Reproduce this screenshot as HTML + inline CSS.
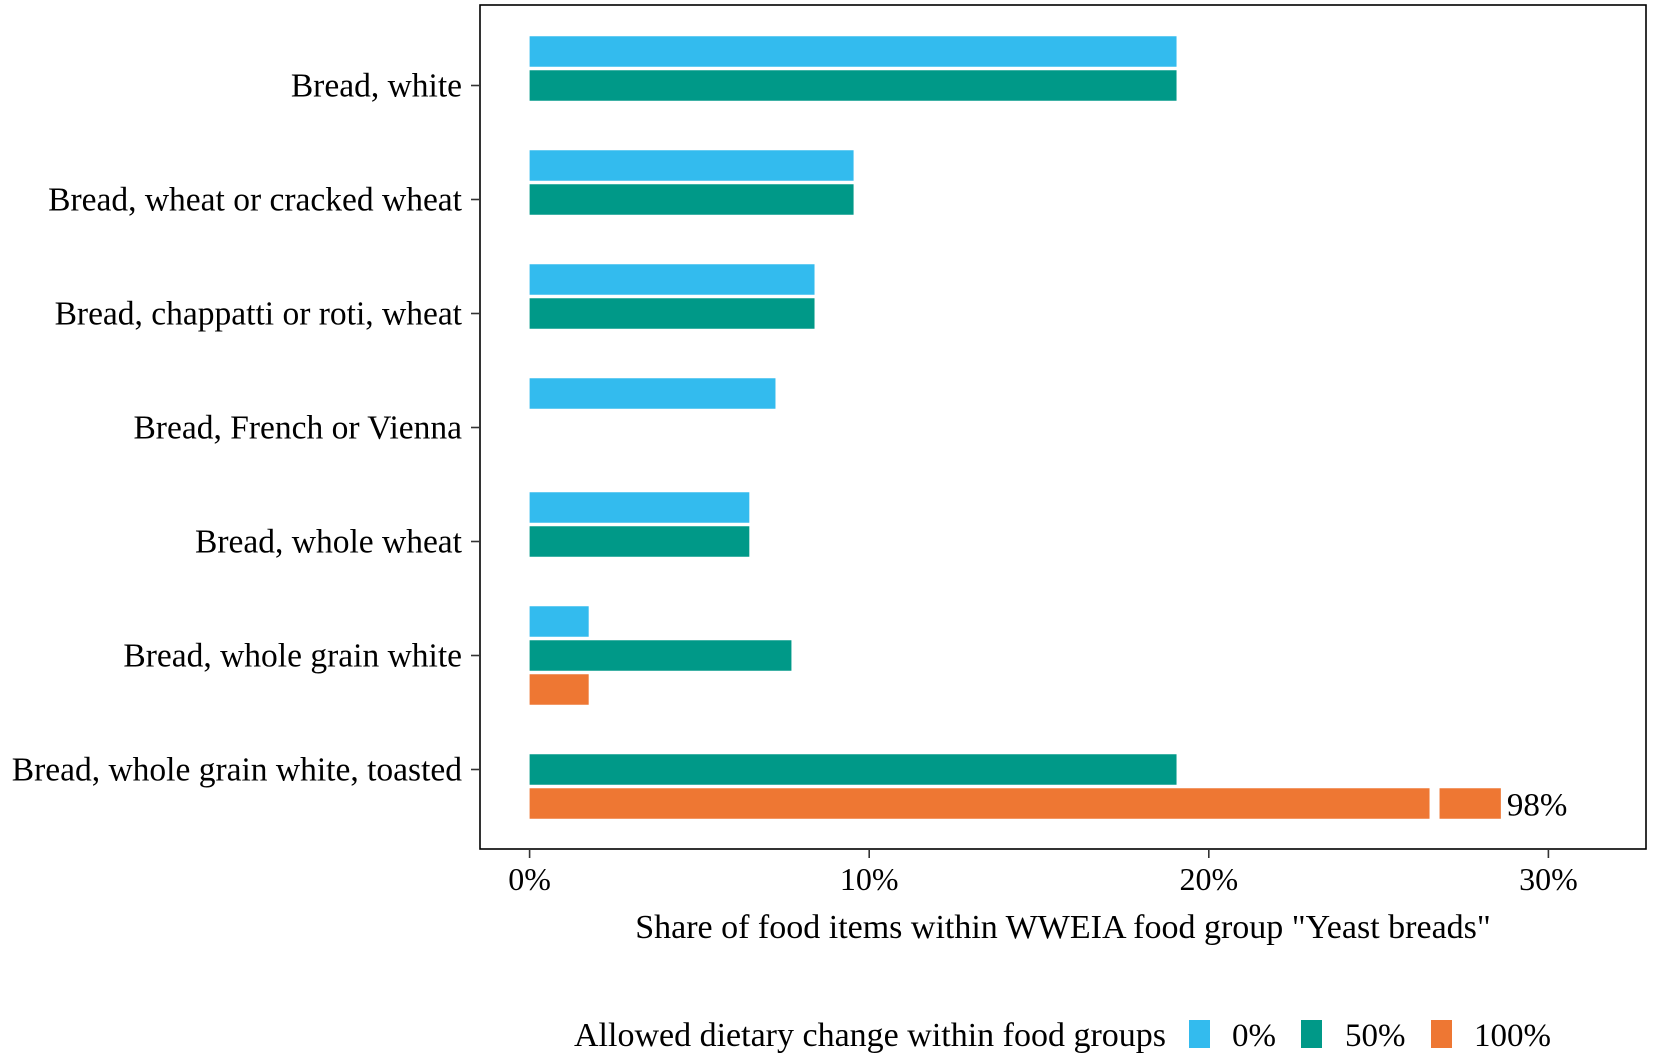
<!DOCTYPE html>
<html><head><meta charset="utf-8"><style>
body{margin:0;background:#fff;}
svg{display:block;font-family:"Liberation Serif",serif;}
</style></head><body>
<svg id="chart" width="1654" height="1058" viewBox="0 0 1654 1058"></svg>
<script>
const categories = ["Bread, white","Bread, wheat or cracked wheat","Bread, chappatti or roti, wheat","Bread, French or Vienna","Bread, whole wheat","Bread, whole grain white","Bread, whole grain white, toasted"];
const series0 = [19.05, 9.54, 8.39, 7.24, 6.47, 1.74, null];
const series50 = [19.05, 9.54, 8.39, null, 6.47, 7.71, 19.05];
const series100 = [null, null, null, null, null, 1.74, 98];
const xTicks = [0, 10, 20, 30];
const xTickLabels = ["0%","10%","20%","30%"];
const seriesNames = ["0%","50%","100%"];
const colors = ["#33bbee","#009988","#ee7733"];

const NS="http://www.w3.org/2000/svg";
const svg=document.getElementById('chart');
function el(t,a,p){const e=document.createElementNS(NS,t);for(const k in a)e.setAttribute(k,a[k]);(p||svg).appendChild(e);return e;}
const L=480,R=1646,T=5,B=849;
const x=v=>529.6+v*33.96;
const y=i=>85.5+i*114;
const bh=30.5, off=[-34,0,34];
const brkStart=26.5, brkEnd=28.6;

const panel=el('rect',{x:L,y:T,width:R-L,height:B-T,fill:'#fff',stroke:'#000','stroke-width':1.6});



const all=[series0,series50,series100];
categories.forEach((c,i)=>{
  const t=el('text',{x:462,y:y(i)+11,'text-anchor':'end','font-size':33.5,fill:'#000'});
  t.textContent=c;
  
  
  const tk=el('line',{x1:471,x2:480,y1:y(i),y2:y(i),stroke:'#333','stroke-width':1.6});
  
  
  all.forEach((s,j)=>{
    const v=s[i]; if(v==null) return;
    const yy=y(i)+off[j]-bh/2;
    if(v>30){
      const b1=el('rect',{x:x(0),y:yy,width:x(brkStart)-x(0),height:bh,fill:colors[j]});
      
      
      const b2=el('rect',{x:x(brkStart)+10,y:yy,width:x(brkEnd)-x(brkStart)-10,height:bh,fill:colors[j]});
      
      
      const lb=el('text',{x:x(brkEnd)+6,y:yy+bh/2+12,'font-size':33,fill:'#000'});
      lb.textContent=v+'%';
      
      
    } else {
      const b=el('rect',{x:x(0),y:yy,width:x(v)-x(0),height:bh,fill:colors[j]});
      
      
    }
  });
});

xTicks.forEach((v,i)=>{
  const tk=el('line',{x1:x(v),x2:x(v),y1:B,y2:B+9,stroke:'#333','stroke-width':1.6});
  
  
  const t=el('text',{x:x(v),y:890,'text-anchor':'middle','font-size':32,fill:'#000'});
  t.textContent=xTickLabels[i];
  
  
});

const xt=el('text',{x:1063,y:938,'text-anchor':'middle','font-size':34,fill:'#000'});
xt.textContent='Share of food items within WWEIA food group "Yeast breads"';



const lt=el('text',{x:574,y:1046,'font-size':34,fill:'#000'});
lt.textContent='Allowed dietary change within food groups';


const keyX=[1189,1301,1431], txtX=[1232,1345,1474];
seriesNames.forEach((n,j)=>{
  const k=el('rect',{x:keyX[j],y:1020,width:21,height:28,fill:colors[j]});
  
  
  const t=el('text',{x:txtX[j],y:1046,'font-size':33,fill:'#000'});
  t.textContent=n;
  
  
});
</script>
</body></html>
